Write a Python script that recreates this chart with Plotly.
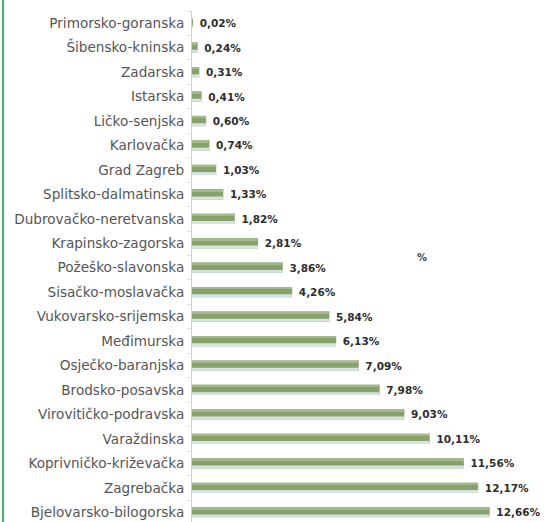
import plotly.graph_objects as go

counties = [
    "Primorsko-goranska", "Šibensko-kninska", "Zadarska", "Istarska",
    "Ličko-senjska", "Karlovačka", "Grad Zagreb", "Splitsko-dalmatinska",
    "Dubrovačko-neretvanska", "Krapinsko-zagorska", "Požeško-slavonska",
    "Sisačko-moslavačka", "Vukovarsko-srijemska", "Međimurska",
    "Osječko-baranjska", "Brodsko-posavska", "Virovitičko-podravska",
    "Varaždinska", "Koprivničko-križevačka", "Zagrebačka",
    "Bjelovarsko-bilogorska",
]
values = [0.02, 0.24, 0.31, 0.41, 0.60, 0.74, 1.03, 1.33, 1.82, 2.81, 3.86,
          4.26, 5.84, 6.13, 7.09, 7.98, 9.03, 10.11, 11.56, 12.17, 12.66]

# plot bottom-to-top so first county sits at top
cats = counties[::-1]
vals = values[::-1]
labels = ["\u00a0" + f"{v:.2f}".replace(".", ",") + "%" for v in vals]

fig = go.Figure()
fig.add_trace(go.Bar(
    y=cats, x=vals, orientation="h", width=0.42,
    marker=dict(color="#86a268", line=dict(width=0)),
    text=labels, textposition="outside", cliponaxis=False, constraintext="none",
    textfont=dict(family="DejaVu Sans", size=10.5, color="#2e2e2e"),
    texttemplate="<b>%{text}</b>", hoverinfo="skip",
))
# lighter lower strip to mimic gradient
fig.add_trace(go.Bar(
    y=cats, x=vals, orientation="h", width=0.12, offset=-0.21,
    marker=dict(color="#d6e2e4", line=dict(width=0)),
    hoverinfo="skip",
))
fig.add_trace(go.Bar(
    y=cats, x=vals, orientation="h", width=0.08, offset=0.13,
    marker=dict(color="#a3b88c", line=dict(width=0)),
    hoverinfo="skip",
))

fig.update_layout(
    width=546, height=522,
    margin=dict(l=192, r=6, t=11, b=0),
    paper_bgcolor="white", plot_bgcolor="white",
    barmode="overlay", showlegend=False,
    xaxis=dict(range=[0, 14.8], visible=False, automargin=False),
    yaxis=dict(
        type="category", categoryorder="array", categoryarray=cats,
        range=[-0.4, 20.5], automargin=False,
        showline=True, linecolor="#d0d0d0", linewidth=1,
        ticks="outside", tickson="boundaries", ticklen=4, tickcolor="#e0e0e0",
        showgrid=False, zeroline=False,
        tickfont=dict(family="DejaVu Sans", size=13.6, color="#555555"),
        ticklabelstandoff=4,
    ),
    shapes=[dict(type="line", xref="paper", yref="paper",
                 x0=-0.543, x1=-0.543, y0=-0.02, y1=1.03,
                 line=dict(color="#3cb371", width=2))],
    annotations=[dict(text="<b>%</b>", xref="paper", yref="paper",
                      x=0.661, y=0.517, showarrow=False,
                      font=dict(family="DejaVu Sans", size=10, color="#444444"))],
)

fig.write_html("out.html", config={"displayModeBar": False},
               post_script="document.body.style.margin='0';document.body.style.overflow='hidden';")
